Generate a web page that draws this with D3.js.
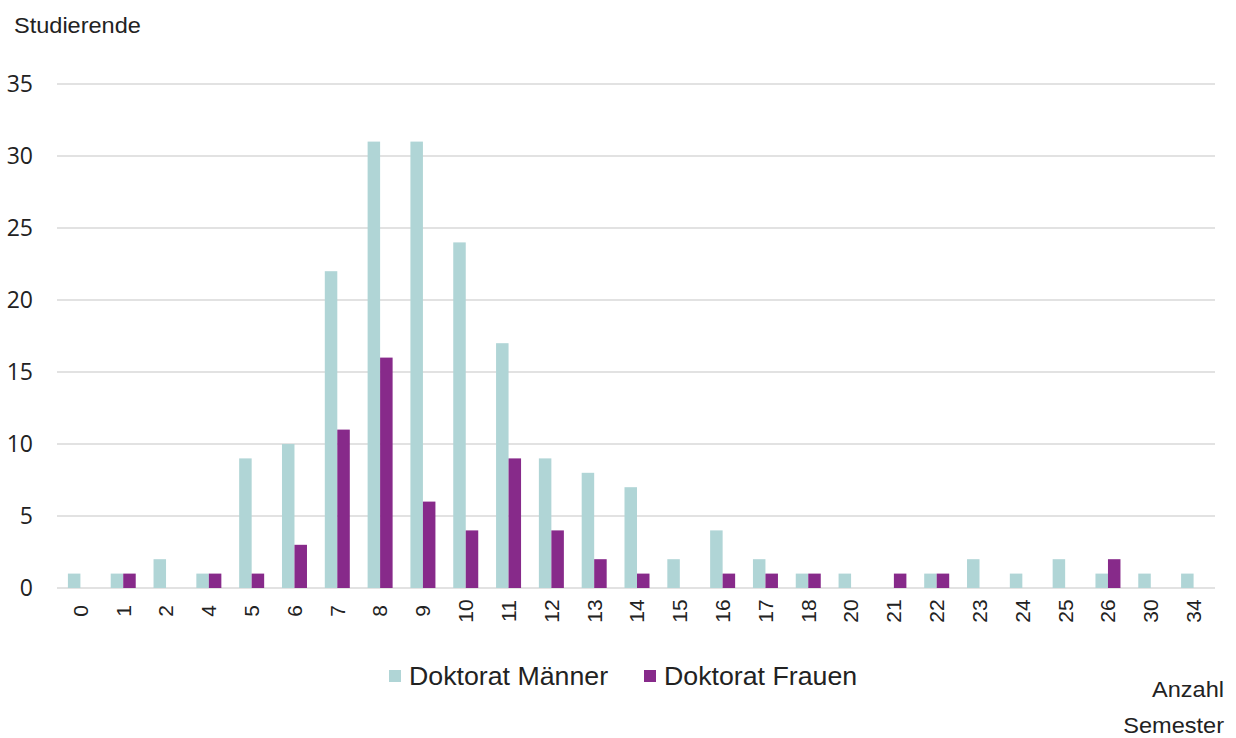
<!DOCTYPE html>
<html><head><meta charset="utf-8">
<script src="https://cdn.jsdelivr.net/npm/d3@7"></script>
<style>body{margin:0;background:#fff}svg{display:block}text{font-family:"Liberation Sans",Arial,sans-serif;fill:#222}</style>
</head><body><svg id="c" width="1236" height="738"></svg>
<script>
const categories = ["0","1","2","4","5","6","7","8","9","10","11","12","13","14","15","16","17","18","20","21","22","23","24","25","26","30","34"];
const maenner = [1,1,2,1,9,10,22,31,31,24,17,9,8,7,2,4,2,1,1,0,1,2,1,2,1,1,1];
const frauen  = [0,1,0,1,1,3,11,16,6,4,9,4,2,1,0,1,1,1,0,1,1,0,0,0,2,0,0];
const seriesNames = ["Doktorat Männer","Doktorat Frauen"];
const yTicks = [0,5,10,15,20,25,30,35];
const colors = ["#b0d5d6","#872a8a"];

const svg = d3.select("#c");
const pL = 59, pR = 1215, pT = 84, pB = 588;
const sx = 1.07;
const x = d3.scaleBand().domain(categories).range([pL, pR]).paddingInner(0).paddingOuter(0);
const y = d3.scaleLinear().domain([0,35]).range([pB, pT]);
const bw = 12.5;

svg.append("g").selectAll("line").data(yTicks).join("line")
  .attr("x1", pL - 2).attr("x2", pR).attr("y1", d => y(d)).attr("y2", d => y(d))
  .attr("stroke", "#d9d9d9").attr("stroke-width", 1.5);

const yAxis = d3.axisLeft(y).tickValues(yTicks).tickSize(0).tickPadding(0);
const gy = svg.append("g").attr("transform", `translate(33,0)`).call(yAxis);
gy.select(".domain").remove();
gy.selectAll("text").style("font-size","23px").attr("fill","#222").style("font-family","'Open Sans',sans-serif");

const data = categories.map((c,i) => ({c, v:[maenner[i], frauen[i]]}));
const g = svg.append("g");
data.forEach(d => {
  d.v.forEach((v, k) => {
    if (v <= 0) return;
    const cx = x(d.c) + x.bandwidth()/2;
    g.append("rect")
      .attr("x", cx - bw + k*bw).attr("width", bw)
      .attr("y", y(v)).attr("height", y(0) - y(v))
      .attr("fill", colors[k]);
  });
});

const xAxis = d3.axisBottom(x).tickSize(0).tickPadding(0);
const gx = svg.append("g").attr("transform", `translate(0,${pB})`).call(xAxis);
gx.select(".domain").remove();
gx.selectAll("text")
  .attr("y", 0).attr("x", 0).attr("dy", "0.35em")
  .attr("transform", "translate(0,23) rotate(-90)")
  .attr("text-anchor","middle")
  .style("font-size","21px").attr("fill","#222");

function label(txt, px, py, size, anchor) {
  svg.append("text").attr("transform", `translate(${px},${py}) scale(${sx},1)`)
    .attr("text-anchor", anchor || "start").text(txt).style("font-size", size + "px");
}
label("Studierende", 14, 33, 22);

const legX = [389, 644];
seriesNames.forEach((n,k) => {
  svg.append("rect").attr("x", legX[k]).attr("y", 670).attr("width", 12).attr("height", 12).attr("fill", colors[k]);
  label(n, legX[k] + 20, 685, 25);
});

label("Anzahl", 1224, 697, 22, "end");
label("Semester", 1224, 733, 22, "end");
</script></body></html>
